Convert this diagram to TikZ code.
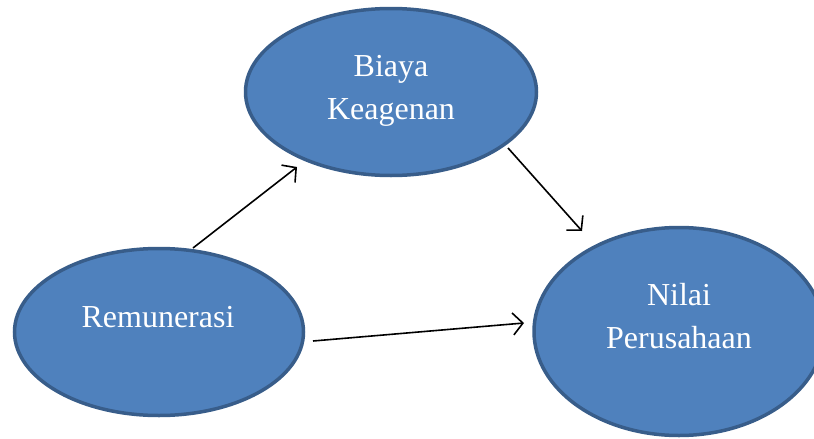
\documentclass[tikz,border=0pt]{standalone}
\usepackage{fontspec}
\setmainfont{Liberation Serif}
\usetikzlibrary{shapes.geometric,arrows.meta}
\definecolor{ovalfill}{HTML}{4F81BD}
\definecolor{ovalline}{HTML}{385D8A}

\begin{document}
\begin{tikzpicture}
                [x=1pt,y=-1pt,
                oval/.style={ellipse,draw=ovalline,fill=ovalfill,line width=3.5pt,inner sep=0pt},
                txt/.style={text=white,align=center,font=\fontsize{32}{43}\selectfont},
                arr/.style={line width=1.6pt,-{Straight Barb[length=10pt,width=22pt]}}]
                \useasboundingbox (0,0) rectangle (814,439);
                \node[oval,minimum width=291pt,minimum height=167pt] (biaya) at (391,92) {};
                \node[txt] (biayatext) at (391,91) {Biaya\\Keagenan};
                \node[oval,minimum width=289pt,minimum height=167pt] (remun) at (159,332) {};
                \node[txt] (remuntext) at (158,317) {Remunerasi};
                \node[oval,minimum width=290pt,minimum height=208pt] (nilai) at (679,331.5) {};
                \node[txt] (nilaitext) at (679,316.5) {Nilai\\Perusahaan};
                % arrow ends
                \coordinate (remtop) at (193,248);
                \coordinate (remright) at (313,341);
                \coordinate (biayain) at (297,167);
                \coordinate (biayaout) at (508,148);
                \coordinate (nilaitop) at (582,231);
                \coordinate (nilaileft) at (524,323);
                \draw[arr] (remtop) -- (biayain);
                \draw[arr] (biayaout) -- (nilaitop);
                \draw[arr] (remright) -- (nilaileft);
\end{tikzpicture}
\end{document}
